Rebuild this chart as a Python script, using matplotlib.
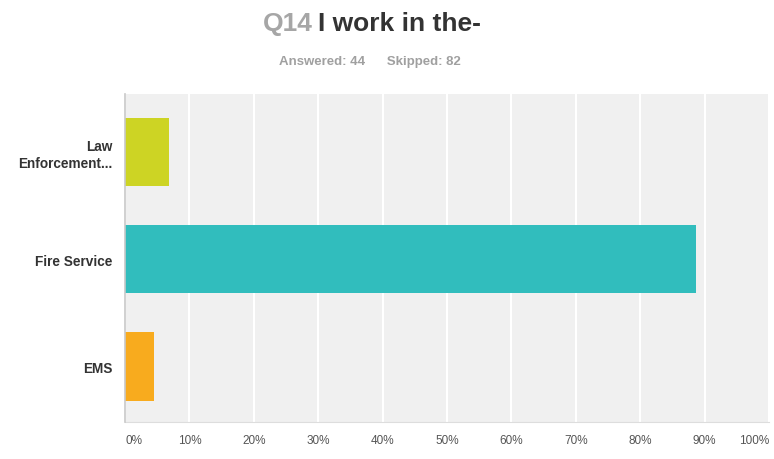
import numpy as np
import matplotlib.pyplot as plt

plt.rcParams['font.family'] = ['Liberation Sans', 'DejaVu Sans']

# respostas da pergunta Q14
categorias = ["Law\nEnforcement...", "Fire Service", "EMS"]
percentuais = [6.82, 88.64, 4.55]
cores = ["#cdd424", "#31bdbd", "#f8ab1e"]
ticks_x = [0, 10, 20, 30, 40, 50, 60, 70, 80, 90, 100]
respondidas = 44
puladas = 82

W, H = 774, 460
fig = plt.figure(figsize=(W / 100, H / 100), dpi=100)
ax = fig.add_axes([125 / W, 1 - 423 / H, (769 - 125) / W, (423 - 95) / H])

ax.set_facecolor("#f0f0f0")
y = np.arange(len(categorias))
ax.barh(y, percentuais, height=0.64, color=cores, zorder=3)

ax.set_xlim(0, 100)
ax.set_ylim(2.52, -0.54)
ax.set_xticks(ticks_x)
ax.set_xticklabels([f"{t}%" for t in ticks_x], fontsize=8.5, color="#555555")
ax.set_yticks(y)
ax.set_yticklabels(categorias, fontsize=9.8, fontweight="bold", color="#333333",
                   linespacing=1.25)
ax.tick_params(length=0, pad=9)
ax.tick_params(axis="x", pad=9)
labels = ax.get_xticklabels()
labels[0].set_ha("left")
labels[-1].set_ha("right")

ax.grid(axis="x", color="white", linewidth=1.5, zorder=1)
for lado in ["top", "right"]:
    ax.spines[lado].set_visible(False)
ax.spines["left"].set_color("#c8c8c8")
ax.spines["left"].set_linewidth(1.2)
ax.spines["bottom"].set_color("#dddddd")
ax.spines["left"].set_zorder(4)

# título em duas cores
fig.text(313 / W, 1 - 24 / H, "Q14", fontsize=19, fontweight="bold",
         color="#a6a6a6", ha="right", va="center")
fig.text(318 / W, 1 - 24 / H, "I work in the-", fontsize=19, fontweight="bold",
         color="#333333", ha="left", va="center")
fig.text(370 / W, 1 - 62 / H, f"Answered: {respondidas}      Skipped: {puladas}",
         fontsize=9.5, fontweight="bold", color="#a0a0a0", ha="center", va="center")

fig.savefig("out.png", dpi=100)
